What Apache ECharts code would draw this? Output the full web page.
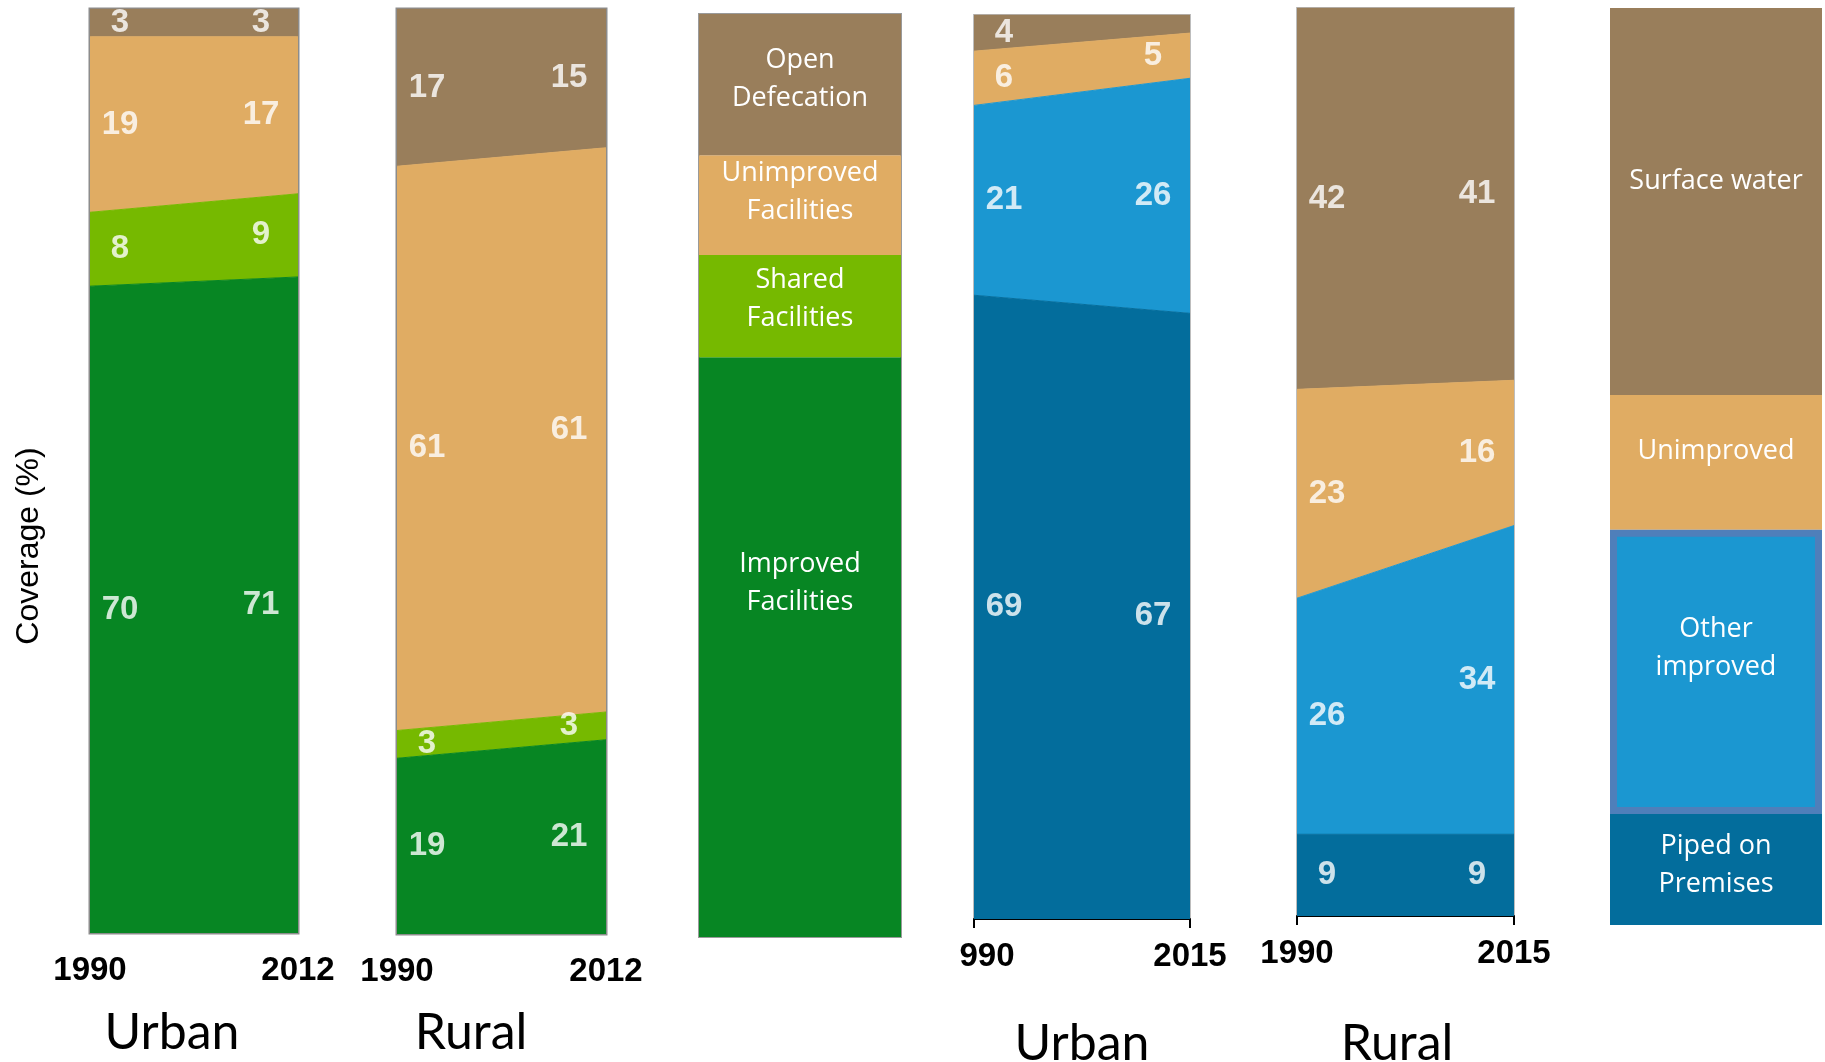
<!DOCTYPE html>
<html>
<head>
<meta charset="utf-8">
<script src="https://cdn.jsdelivr.net/npm/echarts@6/dist/echarts.min.js"></script>
<style>
  html, body { margin: 0; padding: 0; background: #fff; }
  #main { width: 1825px; height: 1062px; }
</style>
</head>
<body>
<div id="main"></div>
<script>
// tick labels (the first urban water tick is clipped to "990" in the source)
var sanYears = ['1990', '2012'];
var urbanWaterYears = ['990', '2015'];
var ruralWaterYears = ['1990', '2015'];

// sanitation coverage (%), bottom layer first
var urbanSanImproved = [70, 71];
var urbanSanShared = [8, 9];
var urbanSanUnimproved = [19, 17];
var urbanSanOpen = [3, 3];

var ruralSanImproved = [19, 21];
var ruralSanShared = [3, 3];
var ruralSanUnimproved = [61, 61];
var ruralSanOpen = [17, 15];

// drinking water coverage (%)
var urbanWaterPiped = [69, 67];
var urbanWaterOther = [21, 26];
var urbanWaterUnimproved = [6, 5];
var urbanWaterSurface = [4, 2];

var ruralWaterPiped = [9, 9];
var ruralWaterOther = [26, 34];
var ruralWaterUnimproved = [23, 16];
var ruralWaterSurface = [42, 41];

// legend columns (block heights in % of column)
var sanLegendNames = ['Improved\nFacilities', 'Shared\nFacilities', 'Unimproved\nFacilities', 'Open\nDefecation'];
var sanLegendBlocks = [62.8, 11.1, 10.8, 15.3];
var waterLegendNames = ['Piped on\nPremises', 'Other\nimproved', 'Unimproved', 'Surface water'];
var waterLegendBlocks = [12.1, 31.0, 14.7, 42.2];

var sanColors = ['#078623', '#76b900', '#e0ac63', '#997e5b'];
var waterColors = ['#036d9c', '#1b97d1', '#e0ac63', '#997e5b'];

var myChart = echarts.init(document.getElementById('main'));

var grids = [
    {left: 90, top: 9, width: 208, height: 924, show: true, borderColor: '#8c8c8c', borderWidth: 3, backgroundColor: 'transparent'},
    {left: 397, top: 9, width: 209, height: 925, show: true, borderColor: '#8c8c8c', borderWidth: 3, backgroundColor: 'transparent'},
    {left: 699, top: 14, width: 202, height: 923, show: true, borderColor: '#9a9a9a', borderWidth: 2, backgroundColor: 'transparent'},
    {left: 974, top: 15, width: 216, height: 904, show: true, borderColor: '#bdbdbd', borderWidth: 2, backgroundColor: 'transparent'},
    {left: 1297, top: 8, width: 217, height: 908, show: true, borderColor: '#bdbdbd', borderWidth: 2, backgroundColor: 'transparent'},
    {left: 1610, top: 8, width: 212, height: 917}
];

var tickFont = {color: '#000', fontSize: 33, fontWeight: 'bold', fontFamily: 'Liberation Sans'};

function yearAxis(gi, cats, withLine) {
    return {
        type: 'category', gridIndex: gi, data: cats, boundaryGap: false,
        axisLine: {show: withLine, lineStyle: {color: '#000', width: 2}},
        axisTick: {show: withLine, length: 9, lineStyle: {color: '#000', width: 2}},
        splitLine: {show: false},
        axisLabel: Object.assign({show: true, margin: 21, interval: 0,
            formatter: function (v) { return v === '990' ? '{shift|990}' : v; },
            rich: {shift: {padding: [0, 0, 0, 26], fontSize: 33, fontWeight: 'bold', fontFamily: 'Liberation Sans', color: '#000'}}
        }, tickFont)
    };
}

var xAxes = [
    yearAxis(0, sanYears, false),
    yearAxis(1, sanYears, false),
    {type: 'category', gridIndex: 2, data: [''], show: false},
    yearAxis(3, urbanWaterYears, true),
    yearAxis(4, ruralWaterYears, true),
    {type: 'category', gridIndex: 5, data: [''], show: false}
];
var yAxes = [];
for (var i = 0; i < 6; i++) {
    yAxes.push({type: 'value', gridIndex: i, min: 0, max: 100, show: false});
}

var series = [];

function addPanel(gi, layers, colors) {
    layers.forEach(function (vals, k) {
        series.push({
            type: 'line', xAxisIndex: gi, yAxisIndex: gi, stack: 'panel' + gi,
            data: vals, symbol: 'none', silent: true, z: 2,
            lineStyle: {width: 1, color: colors[k]},
            areaStyle: {color: colors[k], opacity: 1}
        });
    });
    // value labels centred in each band; very thin bands are not labelled in the source
    var pts = [];
    for (var j = 0; j < 2; j++) {
        var base = 0;
        layers.forEach(function (vals) {
            var v = vals[j];
            if (v >= 3) {
                pts.push({value: [j, base + v / 2, v], label: {offset: [j === 0 ? 30 : -37, 0]}});
            }
            base += v;
        });
    }
    series.push({
        type: 'scatter', xAxisIndex: gi, yAxisIndex: gi, data: pts,
        symbolSize: 0, silent: true, z: 5,
        label: {
            show: true, position: 'inside',
            formatter: function (p) { return p.value[2]; },
            color: '#fff', fontSize: 33, fontWeight: 'bold', fontFamily: 'Liberation Sans'
        }
    });
}

function addLegend(gi, names, blocks, colors, offsets, borders) {
    names.forEach(function (name, k) {
        series.push({
            type: 'bar', xAxisIndex: gi, yAxisIndex: gi, stack: 'legend' + gi,
            barWidth: '100%', silent: true, data: [blocks[k]], z: borders[k] ? 3 : 2,
            itemStyle: borders[k] ? {color: colors[k], borderColor: '#4f7fba', borderWidth: 7} : {color: colors[k]},
            label: {
                show: true, position: 'inside', offset: [0, offsets[k]],
                formatter: name, color: '#fff',
                fontSize: 27, lineHeight: 38, fontFamily: 'Open Sans'
            }
        });
    });
}

addPanel(0, [urbanSanImproved, urbanSanShared, urbanSanUnimproved, urbanSanOpen], sanColors);
addPanel(1, [ruralSanImproved, ruralSanShared, ruralSanUnimproved, ruralSanOpen], sanColors);
addLegend(2, sanLegendNames, sanLegendBlocks, sanColors, [-64, -7, -13, -5], [false, false, false, false]);
addPanel(3, [urbanWaterPiped, urbanWaterOther, urbanWaterUnimproved, urbanWaterSurface], waterColors);
addPanel(4, [ruralWaterPiped, ruralWaterOther, ruralWaterUnimproved, ruralWaterSurface], waterColors);
addLegend(5, waterLegendNames, waterLegendBlocks, waterColors, [-4, -24, -11, -20], [false, true, false, false]);

function label(text, x, y, size, family, rot) {
    return {
        type: 'text', x: x, y: y, rotation: rot || 0, z: 10, silent: true,
        style: {
            text: text, fill: '#000', fontSize: size, fontFamily: family,
            align: 'center', verticalAlign: 'middle',
            textAlign: 'center', textVerticalAlign: 'middle'
        }
    };
}

var option = {
    animation: false,
    grid: grids,
    xAxis: xAxes,
    yAxis: yAxes,
    series: series,
    graphic: [
        label('Coverage (%)', 29, 546, 32, 'Liberation Sans', Math.PI / 2),
        label('Urban', 172, 1033, 50, 'Lato'),
        label('Rural', 471, 1033, 50, 'Lato'),
        label('Urban', 1082, 1044, 50, 'Lato'),
        label('Rural', 1397, 1044, 50, 'Lato')
    ]
};
myChart.setOption(option);
window.onresize = myChart.resize;
</script>
</body>
</html>
